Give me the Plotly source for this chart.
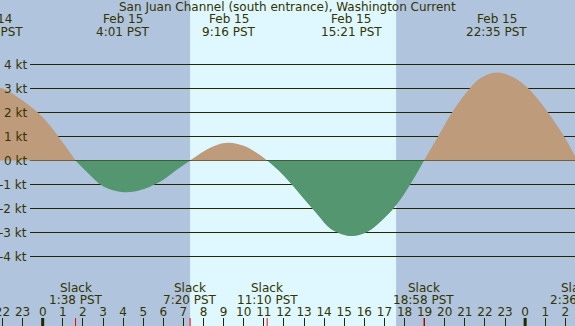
import plotly.graph_objects as go
import pandas as pd

TITLE = "San Juan Channel (south entrance), Washington Current"

# current curve readings (time, knots); zeros are slack water
curve_times = [
    "2024-02-14 21:29", "2024-02-14 22:00", "2024-02-14 23:00", "2024-02-15 00:00",
    "2024-02-15 01:00", "2024-02-15 01:38",
    "2024-02-15 02:15", "2024-02-15 03:00", "2024-02-15 04:01", "2024-02-15 05:00",
    "2024-02-15 06:00", "2024-02-15 06:40", "2024-02-15 07:20",
    "2024-02-15 08:00", "2024-02-15 08:40", "2024-02-15 09:16", "2024-02-15 10:00",
    "2024-02-15 10:35", "2024-02-15 11:10",
    "2024-02-15 11:45", "2024-02-15 12:20", "2024-02-15 13:00", "2024-02-15 13:40",
    "2024-02-15 14:20", "2024-02-15 15:21", "2024-02-15 16:10", "2024-02-15 17:00",
    "2024-02-15 17:40", "2024-02-15 18:20", "2024-02-15 18:58",
    "2024-02-15 19:40", "2024-02-15 20:20", "2024-02-15 21:00", "2024-02-15 21:45",
    "2024-02-15 22:35", "2024-02-15 23:20", "2024-02-16 00:00", "2024-02-16 00:40",
    "2024-02-16 01:20", "2024-02-16 02:00", "2024-02-16 02:36",
]
curve_kt = [
    3.06, 3.0, 2.5, 1.8,
    0.75, 0.0,
    -0.52, -1.07, -1.32, -1.2,
    -0.8, -0.39, 0.0,
    0.38, 0.65, 0.74, 0.61,
    0.35, 0.0,
    -0.43, -0.95, -1.6, -2.25,
    -2.85, -3.15, -2.97, -2.4,
    -1.77, -0.93, 0.0,
    1.0, 1.96, 2.75, 3.42,
    3.67, 3.5, 3.12, 2.52,
    1.77, 0.92, 0.0,
]

event_times = ["2024-02-14 21:29", "2024-02-15 04:01", "2024-02-15 09:16",
               "2024-02-15 15:21", "2024-02-15 22:35"]
slack_times = ["2024-02-15 01:38", "2024-02-15 07:20", "2024-02-15 11:10",
               "2024-02-15 18:58", "2024-02-16 02:36"]
midnights = ["2024-02-15 00:00", "2024-02-16 00:00"]
sunrise = "2024-02-15 07:20"
sunset = "2024-02-15 17:35"
y_ticks = [4, 3, 2, 1, 0, -1, -2, -3, -4]

x_range = ["2024-02-14 21:52:34", "2024-02-16 02:28:50"]
y_range = [-6.896, 6.6875]

NIGHT = "#B0C4DE"
DAY = "#DFF8FF"
FLOOD = "#BE9B7B"
EBB = "#53966F"
TXT = "#333300"
GRID = "#252500"
FONT = dict(family="DejaVu Sans", size=12, color=TXT)

fig = go.Figure()

# split curve into flood / ebb segments at slack points
ts = pd.to_datetime(curve_times)
segs, cur = [], [0]
for i in range(1, len(curve_kt)):
    cur.append(i)
    if curve_kt[i] == 0 and i < len(curve_kt) - 1:
        segs.append(cur)
        cur = [i]
segs.append(cur)
for seg in segs:
    vals = [curve_kt[i] for i in seg]
    peak = max(vals, key=abs)
    fig.add_trace(go.Scatter(
        x=[ts[i] for i in seg], y=vals, mode="lines",
        line=dict(width=0, shape="spline", smoothing=1.0),
        fill="tozeroy", fillcolor=FLOOD if peak > 0 else EBB,
        hoverinfo="skip"))

# invisible trace on the second (label) x-axis so it is drawn
fig.add_trace(go.Scatter(x=[ts[0]], y=[None], xaxis="x2", mode="lines",
                         hoverinfo="skip", showlegend=False))

r0, r1 = pd.to_datetime(x_range[0]), pd.to_datetime(x_range[1])


def xpos(t):
    t = pd.to_datetime(t)
    if r0 <= t <= r1:
        return "x", t
    return "paper", (t - r0) / (r1 - r0)


shapes = [dict(type="rect", xref="x", yref="paper", x0=sunrise, x1=sunset,
               y0=0, y1=1, fillcolor=DAY, line=dict(width=0), layer="below")]
for v in y_ticks:
    shapes.append(dict(type="line", xref="paper", x0=30 / 575, x1=1, yref="y",
                       y0=v, y1=v, line=dict(color=GRID, width=1), layer="between"))
for m in midnights:
    shapes.append(dict(type="line", xref="x", x0=m, x1=m, yref="paper",
                       ysizemode="pixel", yanchor=0, y0=0, y1=8,
                       line=dict(color=GRID, width=3), layer="above"))
for s in slack_times:
    shapes.append(dict(type="line", xref="x", x0=s, x1=s, yref="paper",
                       ysizemode="pixel", yanchor=0, y0=0, y1=8,
                       line=dict(color="#FF0000", width=1), layer="above"))

H = 326.0
ann = [dict(text=TITLE, xref="paper", x=0.5, yref="paper", y=1 - 7 / H,
            xanchor="center", yanchor="middle", showarrow=False, font=FONT)]
for t in event_times:
    ref, xv = xpos(t)
    d = pd.to_datetime(t)
    for txt, yy in [(f"{d:%b} {d.day}", 19), (f"{d.hour}:{d:%M} PST", 32)]:
        ann.append(dict(text=txt, xref=ref, x=xv, yref="paper", y=1 - yy / H,
                        xanchor="center", yanchor="middle", showarrow=False, font=FONT))
for t in slack_times:
    ref, xv = xpos(t)
    d = pd.to_datetime(t)
    for txt, yy in [("Slack", 287.5), (f"{d.hour}:{d:%M} PST", 299.5)]:
        ann.append(dict(text=txt, xref=ref, x=xv, yref="paper", y=1 - yy / H,
                        xanchor="center", yanchor="middle", showarrow=False, font=FONT))
for v in y_ticks:
    ann.append(dict(text=f"{v} kt", xref="paper", x=29 / 575, yref="y", y=v,
                    xanchor="right", yanchor="middle", showarrow=False, font=FONT))

fig.update_layout(
    width=575, height=326, margin=dict(l=0, r=0, t=0, b=0, autoexpand=False),
    paper_bgcolor=NIGHT, plot_bgcolor=NIGHT, showlegend=False,
    shapes=shapes, annotations=ann, font=FONT,
    xaxis=dict(type="date", range=x_range, showgrid=False, zeroline=False,
               ticks="inside", ticklen=8, tickwidth=1, tickcolor=GRID,
               dtick=3600000, showticklabels=False, automargin=False,
               showline=False, fixedrange=True),
    xaxis2=dict(type="date", range=x_range, overlaying="x", anchor="free",
                position=0.072, side="bottom", showgrid=False, zeroline=False,
                ticks="", dtick=3600000, tickformat="%-H", tickfont=FONT,
                ticklabeloverflow="allow", automargin=False,
                showline=False, fixedrange=True),
    yaxis=dict(range=y_range, showgrid=False, zeroline=False, automargin=False,
               showticklabels=False, ticks="", fixedrange=True),
)

fig.write_html("out.html", config={"displayModeBar": False},
               post_script="document.body.style.margin='0';document.body.style.padding='0';document.body.style.overflow='hidden';")
